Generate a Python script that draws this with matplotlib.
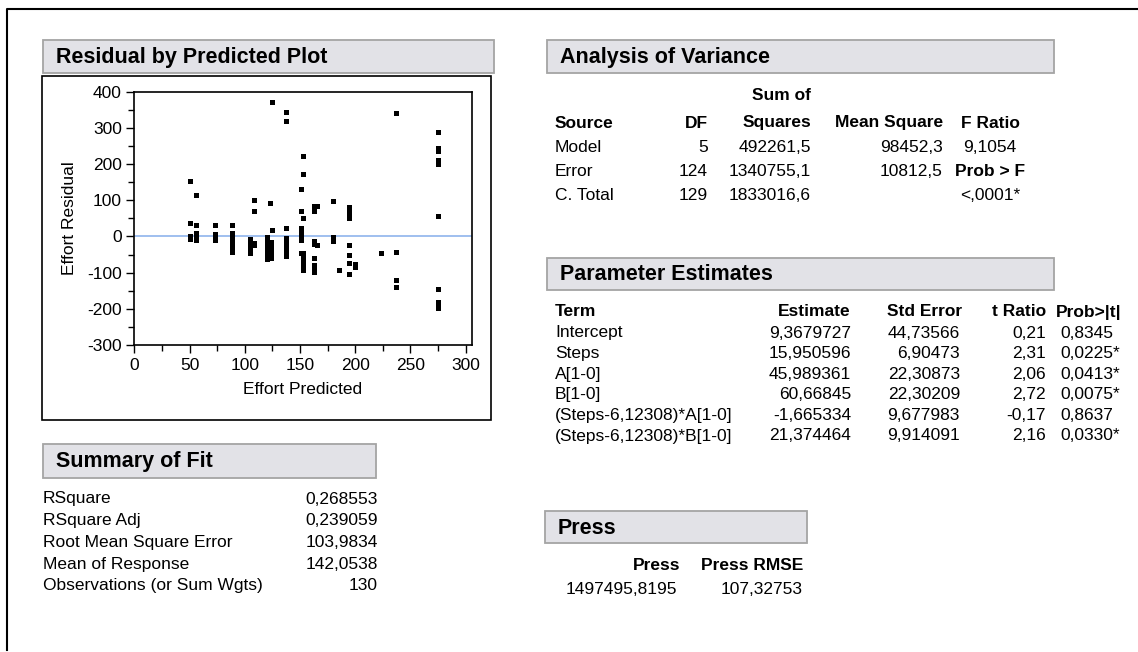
import matplotlib.pyplot as plt
from matplotlib.patches import Rectangle

plt.rcParams['font.family'] = ['Liberation Sans', 'DejaVu Sans']
plt.rcParams['axes.unicode_minus'] = False

# residuals vs predicted effort
pred = [50, 50, 50, 50,
        56, 56, 56, 56, 56, 56,
        73, 73, 73, 73, 73, 73,
        88, 88, 88, 88, 88, 88, 88, 88, 88,
        105, 105, 105, 105, 105, 105,
        108, 108, 108, 108,
        120, 120, 120, 120, 120, 120, 120, 120,
        124, 124, 124, 124, 124, 124, 123,
        125, 125,
        137, 137, 137, 137, 137, 137, 137, 137, 137,
        151, 151, 151, 151, 151, 151, 151, 151,
        153, 153, 153, 153, 153, 153, 153, 153,
        163, 163, 163, 163, 163, 163, 163, 163,
        165, 165,
        180, 180, 180,
        185,
        194, 194, 194, 194, 194, 194, 194, 194, 194,
        200, 200,
        223,
        237, 237, 237, 237,
        275, 275, 275, 275, 275, 275, 275, 275, 275, 275]
resid = [153, 37, 0, -8,
         115, 32, 10, 3, -3, -10,
         32, 8, 3, -2, -6, -10,
         32, 10, 3, -5, -12, -20, -28, -36, -42,
         -8, -15, -22, -30, -38, -45,
         101, 69, -18, -24,
         -2, -10, -20, -28, -38, -46, -55, -62,
         -14, -24, -34, -44, -52, -60, 92,
         372, 18,
         345, 318, 23, -5, -14, -24, -34, -44, -54,
         131, 69, 23, 15, 8, 0, -9, -46,
         223, 172, 52, -46, -60, -74, -82, -92,
         83, 71, -12, -22, -60, -78, -88, -97,
         84, -25,
         98, -1, -12,
         -94,
         80, 72, 65, 58, 52, -25, -51, -74, -103,
         -75, -85,
         -47,
         340, -42, -120, -140,
         290, 245, 235, 212, 200, 57, -145, -181, -190, -198]

x_ticks = [0, 50, 100, 150, 200, 250, 300]
y_ticks = [-300, -200, -100, 0, 100, 200, 300, 400]

fit_labels = ['RSquare', 'RSquare Adj', 'Root Mean Square Error',
              'Mean of Response', 'Observations (or Sum Wgts)']
fit_values = ['0,268553', '0,239059', '103,9834', '142,0538', '130']

anova_source = ['Model', 'Error', 'C. Total']
anova_df = ['5', '124', '129']
anova_ss = ['492261,5', '1340755,1', '1833016,6']
anova_ms = ['98452,3', '10812,5', '']
anova_f = ['9,1054', 'Prob > F', '<,0001*']

terms = ['Intercept', 'Steps', 'A[1-0]', 'B[1-0]',
         '(Steps-6,12308)*A[1-0]', '(Steps-6,12308)*B[1-0]']
estimates = ['9,3679727', '15,950596', '45,989361', '60,66845', '-1,665334', '21,374464']
std_errors = ['44,73566', '6,90473', '22,30873', '22,30209', '9,677983', '9,914091']
t_ratios = ['0,21', '2,31', '2,06', '2,72', '-0,17', '2,16']
p_values = ['0,8345', '0,0225*', '0,0413*', '0,0075*', '0,8637', '0,0330*']

press_value = '1497495,8195'
press_rmse = '107,32753'

W, H = 1138, 652
fig = plt.figure(figsize=(W / 100, H / 100), dpi=100)

# page layer in pixel coordinates for the report boxes and tables
page = fig.add_axes([0, 0, 1, 1])
page.set_xlim(0, W)
page.set_ylim(H, 0)
page.axis('off')

page.plot([7, 7, W], [650, 9, 9], color='black', lw=1.5)

FS = 12.5
HS = 15.5


def header(x0, y0, x1, y1, title):
    page.add_patch(Rectangle((x0, y0), x1 - x0, y1 - y0, facecolor='#e2e2e7',
                             edgecolor='#a4a4a4', lw=1.3))
    page.text(x0 + 13, (y0 + y1) / 2 + 1, title, fontsize=HS, fontweight='bold',
              va='center', ha='left')


def txt(x, y, s, ha='left', bold=False):
    page.text(x, y, s, fontsize=FS, ha=ha, va='center',
              fontweight='bold' if bold else 'normal')


# residual plot panel
header(43, 40, 494, 73, 'Residual by Predicted Plot')
page.add_patch(Rectangle((42, 76), 449, 344, facecolor='white', edgecolor='black', lw=1.2))

# summary of fit
header(43, 444, 376, 478, 'Summary of Fit')
for i, (lab, val) in enumerate(zip(fit_labels, fit_values)):
    y = 499 + i * 21.7
    txt(43, y, lab)
    txt(378, y, val, ha='right')

# analysis of variance
header(547, 40, 1054, 73, 'Analysis of Variance')
txt(781, 96, 'Sum of', ha='center', bold=True)
hy = 123
txt(555, hy, 'Source', bold=True)
txt(708, hy, 'DF', ha='right', bold=True)
txt(811, hy, 'Squares', ha='right', bold=True)
txt(943, hy, 'Mean Square', ha='right', bold=True)
txt(990, hy, 'F Ratio', ha='center', bold=True)
for i in range(3):
    y = 148 + i * 24
    txt(555, y, anova_source[i])
    txt(708, y, anova_df[i], ha='right')
    txt(811, y, anova_ss[i], ha='right')
    txt(943, y, anova_ms[i], ha='right')
    txt(990, y, anova_f[i], ha='center', bold=(i == 1))

# parameter estimates
header(547, 258, 1054, 290, 'Parameter Estimates')
ty = 312
txt(555, ty, 'Term', bold=True)
txt(851, ty, 'Estimate', ha='right', bold=True)
txt(962, ty, 'Std Error', ha='right', bold=True)
txt(1046, ty, 't Ratio', ha='right', bold=True)
txt(1122, ty, 'Prob>|t|', ha='right', bold=True)
for i in range(len(terms)):
    y = 333 + i * 20.6
    txt(555, y, terms[i])
    txt(851, y, estimates[i], ha='right')
    txt(960, y, std_errors[i], ha='right')
    txt(1046, y, t_ratios[i], ha='right')
    txt(1060, y, p_values[i])

# press
header(545, 511, 807, 543, 'Press')
txt(680, 566, 'Press', ha='right', bold=True)
txt(803, 566, 'Press RMSE', ha='right', bold=True)
txt(677, 590, press_value, ha='right')
txt(803, 590, press_rmse, ha='right')

# scatter axes
ax = fig.add_axes([134.4 / W, 1 - 345 / H, (471.7 - 134.4) / W, (345 - 91.7) / H])
ax.plot(pred, resid, 's', color='black', ms=3.6, mew=0, zorder=3)
ax.axhline(0, color='#8fb4ec', lw=1.2, zorder=2)
ax.set_xlim(0, 305.5)
ax.set_ylim(-300, 400)
ax.set_xticks(x_ticks)
ax.set_yticks(y_ticks)
ax.set_xticks(range(25, 300, 50), minor=True)
ax.set_yticks(range(-250, 400, 100), minor=True)
ax.tick_params(which='major', direction='out', length=6, width=1, labelsize=12.5,
               colors='black', pad=3)
ax.tick_params(which='minor', direction='out', length=4, width=1)
for sp in ax.spines.values():
    sp.set_linewidth(1.2)
ax.set_xlabel('Effort Predicted', fontsize=12.5, labelpad=7)
ax.set_ylabel('Effort Residual', fontsize=12.5, labelpad=7)

fig.savefig('out.png', dpi=100)
